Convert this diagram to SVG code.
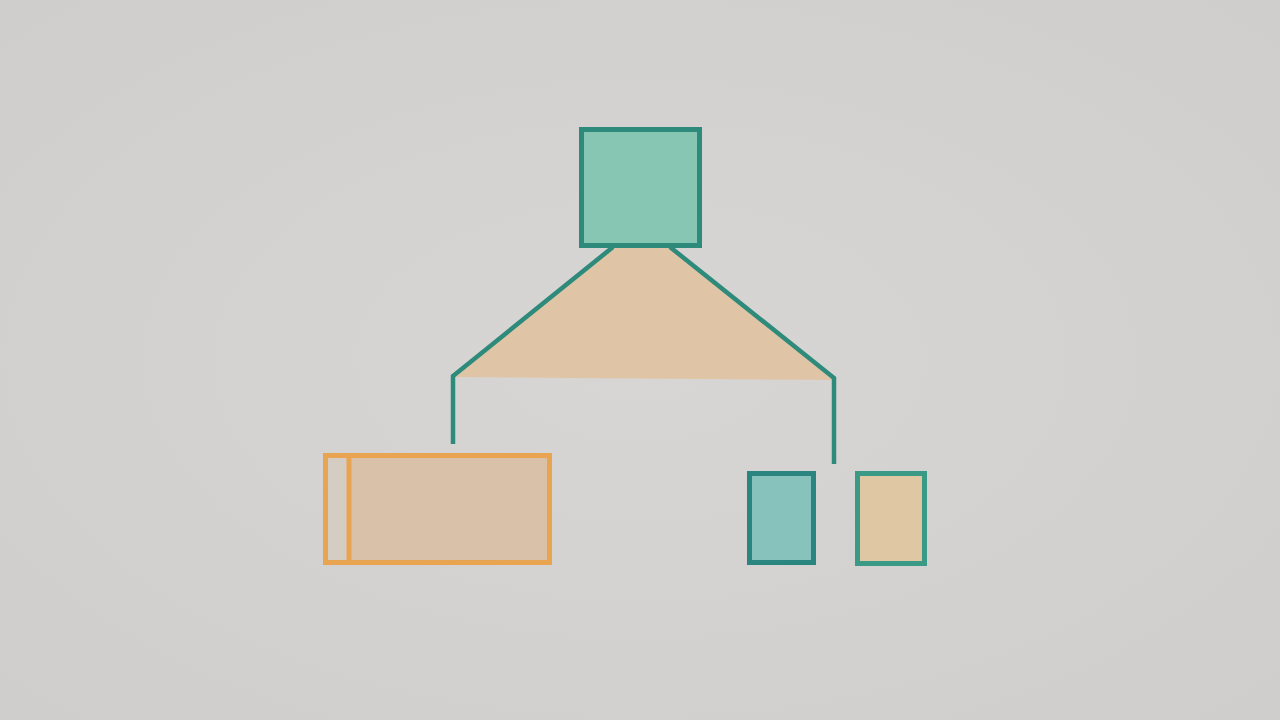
<svg xmlns="http://www.w3.org/2000/svg" width="1280" height="720" viewBox="0 0 1280 720">
  <defs>
    <radialGradient id="bg" cx="50%" cy="50%" r="70%">
      <stop offset="0%" stop-color="#d7d6d5"/>
      <stop offset="100%" stop-color="#cfcecd"/>
    </radialGradient>
  </defs>
  <style>
    .teal { stroke: #2e8a7a; stroke-width: 5; }
    .orange { stroke: #e8a450; stroke-width: 5; }
    .line { fill: none; stroke: #2e8a7a; stroke-width: 4.5; stroke-linejoin: miter; }
  </style>
  <rect x="0" y="0" width="1280" height="720" fill="url(#bg)"/>
  <g id="connectors">
    <polygon points="613,247 670,247 833,380 453,377" fill="#dfc5a6"/>
    <polyline class="line" points="453,444 453,376 613,247"/>
    <polyline class="line" points="670,247 834,378 834,464"/>
  </g>
  <g id="root">
    <rect class="teal" x="581.5" y="129.5" width="118" height="116" fill="#88c6b4"/>
  </g>
  <g id="left-node">
    <rect class="orange" x="325.5" y="455.5" width="224" height="107" fill="#d9c1a9"/>
    <rect x="328" y="458" width="19" height="102" fill="#d5cdc3"/>
    <line class="orange" x1="349" y1="455.5" x2="349" y2="562.5"/>
  </g>
  <g id="mid-node">
    <rect x="749.5" y="473.5" width="64" height="89" fill="#88c2bc" stroke="#2a8580" stroke-width="5"/>
  </g>
  <g id="right-node">
    <rect x="857.5" y="473.5" width="67" height="90" fill="#dfc7a4" stroke="#3a9a86" stroke-width="5"/>
  </g>
</svg>
